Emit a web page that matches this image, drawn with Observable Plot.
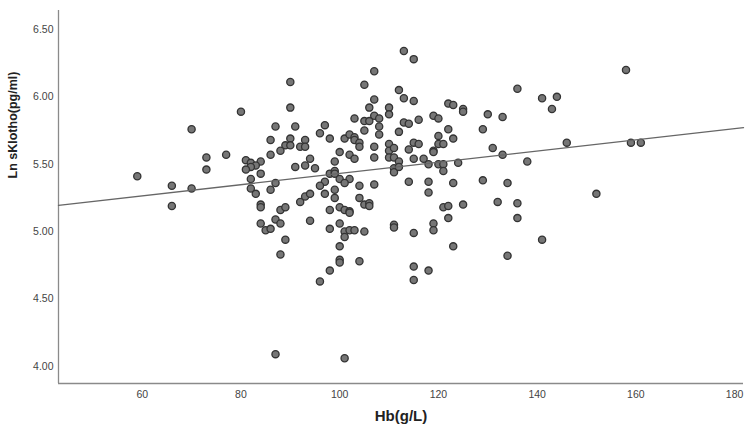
<!DOCTYPE html>
<html>
<head>
<meta charset="utf-8">
<script src="https://cdn.jsdelivr.net/npm/d3@7"></script>
<script src="https://cdn.jsdelivr.net/npm/@observablehq/plot@0.6"></script>
<style>
  html, body { margin: 0; padding: 0; background: #fff; }
</style>
</head>
<body>
<div id="chart"></div>
<script>
// Hb (g/L) for each subject
const hb = [
  90, 90, 80, 70, 87, 91, 86, 90, 89, 90,
  88, 86, 77, 73, 73, 81, 82, 84, 83, 82,
  81, 84, 82, 91, 59, 87, 66, 70, 82, 86,
  83, 66, 84, 84, 88, 89, 84, 87, 88, 85,
  86, 89, 88, 87, 92, 93, 93, 93, 94, 92,
  93, 94, 94, 105, 107, 106, 110, 110, 107, 108,
  103, 105, 106, 108, 112, 97, 96, 105, 108, 112,
  98, 101, 102, 103, 103, 104, 104, 107, 110, 110,
  111, 100, 102, 103, 107, 110, 111, 112, 95, 99,
  98, 99, 99, 100, 102, 101, 104, 107, 111, 111,
  112, 97, 96, 97, 99, 99, 104, 105, 106, 106,
  98, 100, 101, 102, 102, 98, 100, 101, 102, 103,
  101, 105, 111, 111, 100, 100, 100, 104, 98, 96,
  101, 113, 115, 107, 113, 115, 113, 114, 116, 119,
  120, 122, 123, 125, 125, 136, 141, 143, 130, 133,
  129, 122, 123, 120, 120, 121, 119, 119, 115, 116,
  114, 117, 115, 118, 120, 121, 121, 124, 138, 133,
  131, 129, 118, 114, 118, 123, 134, 115, 119, 119,
  121, 122, 122, 125, 123, 132, 136, 136, 141, 134,
  115, 118, 115, 158, 144, 146, 159, 161, 152
];
// Ln sKlotho (pg/ml), same order as hb
const lnKlotho = [
  6.11, 5.92, 5.89, 5.76, 5.78, 5.78, 5.68, 5.69, 5.64, 5.64,
  5.60, 5.57, 5.57, 5.55, 5.46, 5.53, 5.51, 5.52, 5.49, 5.48,
  5.46, 5.43, 5.39, 5.48, 5.41, 5.36, 5.34, 5.32, 5.32, 5.31,
  5.28, 5.19, 5.20, 5.18, 5.16, 5.18, 5.06, 5.09, 5.06, 5.01,
  5.02, 4.94, 4.83, 4.09, 5.63, 5.68, 5.63, 5.49, 5.54, 5.22,
  5.26, 5.28, 5.08, 6.09, 5.98, 5.92, 5.92, 5.87, 5.86, 5.84,
  5.84, 5.82, 5.82, 5.78, 6.05, 5.79, 5.73, 5.75, 5.72, 5.74,
  5.69, 5.69, 5.72, 5.70, 5.68, 5.66, 5.63, 5.63, 5.65, 5.60,
  5.62, 5.59, 5.57, 5.54, 5.55, 5.55, 5.55, 5.52, 5.47, 5.52,
  5.43, 5.45, 5.43, 5.39, 5.39, 5.36, 5.34, 5.35, 5.47, 5.44,
  5.48, 5.37, 5.34, 5.28, 5.31, 5.25, 5.25, 5.20, 5.21, 5.19,
  5.16, 5.18, 5.16, 5.15, 5.14, 5.02, 5.06, 5.00, 5.01, 5.01,
  4.96, 5.00, 5.05, 5.03, 4.89, 4.79, 4.77, 4.78, 4.71, 4.63,
  4.06, 6.34, 6.28, 6.19, 5.99, 5.97, 5.81, 5.80, 5.83, 5.86,
  5.84, 5.95, 5.94, 5.91, 5.89, 6.06, 5.99, 5.91, 5.87, 5.85,
  5.76, 5.76, 5.69, 5.71, 5.65, 5.65, 5.60, 5.59, 5.66, 5.65,
  5.61, 5.54, 5.54, 5.50, 5.50, 5.50, 5.45, 5.51, 5.52, 5.57,
  5.62, 5.38, 5.37, 5.37, 5.29, 5.36, 5.36, 4.99, 5.06, 5.01,
  5.18, 5.19, 5.10, 5.20, 4.89, 5.22, 5.21, 5.10, 4.94, 4.82,
  4.74, 4.71, 4.64, 6.20, 6.00, 5.66, 5.66, 5.66, 5.28
];

// Linear fit line
const fitIntercept = 5.015;
const fitSlope = 0.00416;

// Axes
const xDomain = [43.04, 181.8];
const yDomain = [3.872, 6.641];
const xTicks = [60, 80, 100, 120, 140, 160, 180];
const yTicks = [4.0, 4.5, 5.0, 5.5, 6.0, 6.5];
const xLabel = "Hb(g/L)";
const yLabel = "Ln sKlotho(pg/ml)";

const points = hb.map((h, i) => ({hb: h, ln: lnKlotho[i]}));
const fitLine = xDomain.map(x => ({hb: x, ln: fitIntercept + fitSlope * x}));

const chart = Plot.plot({
  width: 748,
  height: 433,
  marginLeft: 58,
  marginRight: 5,
  marginTop: 10,
  marginBottom: 50,
  style: {fontFamily: "'Liberation Sans', Arial, sans-serif", fontSize: "10.5px", color: "#444", background: "#fff"},
  x: {domain: xDomain},
  y: {domain: yDomain},
  marks: [
    Plot.axisX({ticks: xTicks, tickSize: 0, tickPadding: 7, label: null, tickFormat: d3.format("d")}),
    Plot.axisY({ticks: yTicks, tickSize: 0, tickPadding: 5, label: null, tickFormat: d3.format(".2f")}),
    Plot.ruleX([xDomain[0]], {stroke: "#8a8a8a", strokeWidth: 1.3}),
    Plot.ruleY([yDomain[0]], {stroke: "#8a8a8a", strokeWidth: 1.3}),
    Plot.dot(points, {x: "hb", y: "ln", r: 3.6, fill: "#767676", stroke: "#333", strokeWidth: 1.3}),
    Plot.line(fitLine, {x: "hb", y: "ln", stroke: "#666", strokeWidth: 1.3}),
    Plot.text([xLabel], {frameAnchor: "bottom", dy: 37, fontSize: 15, fontWeight: "bold", fill: "#222"}),
    Plot.text([yLabel], {frameAnchor: "left", rotate: -90, dx: -46, dy: -18.5, fontSize: 12.5, fontWeight: "bold", fill: "#222"})
  ]
});
document.getElementById("chart").appendChild(chart);
</script>
</body>
</html>
